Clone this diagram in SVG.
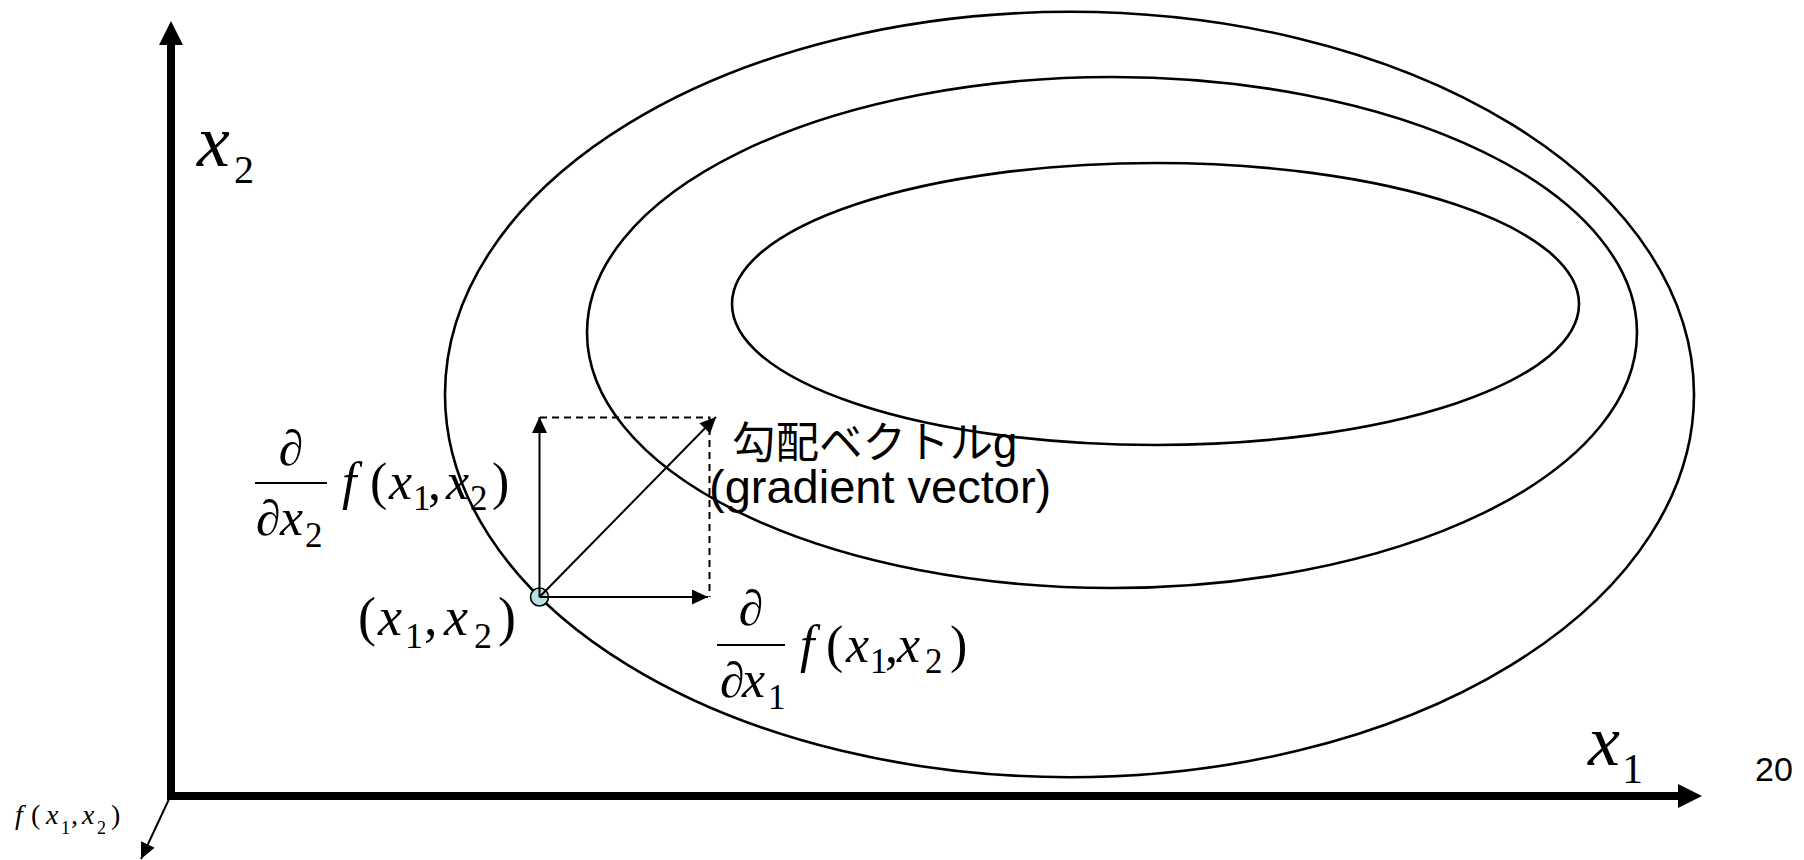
<svg xmlns="http://www.w3.org/2000/svg" width="1804" height="860" viewBox="0 0 1804 860">
<style>
.ell{fill:none;stroke:#000;stroke-width:2.6}
.thin{fill:none;stroke:#000;stroke-width:2}
.dash{fill:none;stroke:#000;stroke-width:2;stroke-dasharray:7,5}
.axis{fill:none;stroke:#000;stroke-width:8}
.m{font-family:"Liberation Serif","Times New Roman",serif;fill:#000}
.i{font-style:italic}
.s{font-family:"Liberation Sans",Arial,"Noto Sans CJK JP",sans-serif;fill:#000}
</style>
<defs>
<marker id="ah" markerUnits="userSpaceOnUse" markerWidth="18" markerHeight="18" refX="16" refY="8" orient="auto" overflow="visible">
<path d="M0,0.5 L16,8 L0,15.5 z" fill="#000"/>
</marker>
<marker id="axh" markerUnits="userSpaceOnUse" markerWidth="26" markerHeight="26" refX="0" refY="12" orient="auto" overflow="visible">
<path d="M0,0 L24,12 L0,24 z" fill="#000"/>
</marker>
</defs>

<g id="contours">
<ellipse id="outer" class="ell" cx="1069.5" cy="394.5" rx="624.5" ry="382.7"/>
<ellipse id="middle" class="ell" cx="1112" cy="332.5" rx="525" ry="255.5"/>
<ellipse id="inner" class="ell" cx="1155.5" cy="304" rx="423.5" ry="141"/>
</g>

<g id="point">
<circle cx="539.5" cy="597" r="9" fill="#b8e0e0" stroke="#000" stroke-width="1.6"/>
</g>

<g id="connectors">
<line class="axis" x1="171" y1="800" x2="171" y2="45" marker-end="url(#axh)"/>
<line class="axis" x1="167" y1="796" x2="1678" y2="796" marker-end="url(#axh)"/>
<line class="thin" x1="170" y1="797" x2="141" y2="859" marker-end="url(#ah)"/>
<line class="thin" x1="539.5" y1="597" x2="539.5" y2="417" marker-end="url(#ah)"/>
<line class="thin" x1="539.5" y1="597" x2="708" y2="597" marker-end="url(#ah)"/>
<line class="thin" x1="539.5" y1="597" x2="716" y2="417" marker-end="url(#ah)"/>
<polyline class="dash" points="540,417.5 709.5,417.5 709.5,597"/>
</g>

<g id="label-x2">
<text class="m i" x="197" y="166" font-size="74">x</text>
<text class="m" x="234" y="183" font-size="40">2</text>
</g>

<g id="label-x1">
<text class="m i" x="1588" y="765" font-size="72">x</text>
<text class="m" x="1622" y="783" font-size="42">1</text>
</g>

<g id="label-20">
<text class="s" x="1755" y="781" font-size="34">20</text>
</g>

<g id="label-point">
<text class="m" x="358" y="635" font-size="54">(</text>
<text class="m i" x="378" y="635" font-size="54">x</text>
<text class="m" x="405" y="648" font-size="36">1</text>
<text class="m" x="424" y="635" font-size="54">,</text>
<text class="m i" x="444" y="635" font-size="54">x</text>
<text class="m" x="474" y="648" font-size="36">2</text>
<text class="m" x="498" y="635" font-size="54">)</text>
</g>

<g id="label-dfdx2">
<text class="m" x="291" y="465" font-size="50" text-anchor="middle">∂</text>
<line x1="255" y1="483" x2="327" y2="483" stroke="#000" stroke-width="2"/>
<text class="m" x="256" y="535" font-size="50">∂</text>
<text class="m i" x="280" y="535" font-size="52">x</text>
<text class="m" x="305" y="547" font-size="35">2</text>
<text class="m i" x="342" y="499" font-size="52">f</text>
<text class="m" x="370" y="499" font-size="52">(</text>
<text class="m i" x="389" y="499" font-size="52">x</text>
<text class="m" x="413" y="510" font-size="35">1</text>
<text class="m" x="428" y="499" font-size="52">,</text>
<text class="m i" x="446" y="499" font-size="52">x</text>
<text class="m" x="470" y="510" font-size="35">2</text>
<text class="m" x="492" y="499" font-size="52">)</text>
</g>

<g id="label-dfdx1">
<text class="m" x="751" y="625" font-size="50" text-anchor="middle">∂</text>
<line x1="717" y1="645" x2="785" y2="645" stroke="#000" stroke-width="2"/>
<text class="m" x="720" y="697" font-size="50">∂</text>
<text class="m i" x="742" y="697" font-size="52">x</text>
<text class="m" x="768" y="709" font-size="35">1</text>
<text class="m i" x="800" y="662" font-size="52">f</text>
<text class="m" x="826" y="662" font-size="52">(</text>
<text class="m i" x="846" y="662" font-size="52">x</text>
<text class="m" x="870" y="673" font-size="35">1</text>
<text class="m" x="885" y="662" font-size="52">,</text>
<text class="m i" x="897" y="662" font-size="52">x</text>
<text class="m" x="925" y="673" font-size="35">2</text>
<text class="m" x="950" y="662" font-size="52">)</text>
</g>

<g id="label-f">
<text class="m i" x="15" y="824" font-size="28">f</text>
<text class="m" x="31" y="824" font-size="28">(</text>
<text class="m i" x="46" y="824" font-size="28">x</text>
<text class="m" x="61" y="834" font-size="18">1</text>
<text class="m" x="71" y="824" font-size="28">,</text>
<text class="m i" x="82" y="824" font-size="28">x</text>
<text class="m" x="97" y="834" font-size="18">2</text>
<text class="m" x="111" y="824" font-size="28">)</text>
</g>

<g id="label-gradient">
<text class="s" x="732" y="458" font-size="43.5">勾配ベクトルg</text>
<text class="s" x="709" y="503" font-size="47">(gradient vector)</text>
</g>
</svg>
